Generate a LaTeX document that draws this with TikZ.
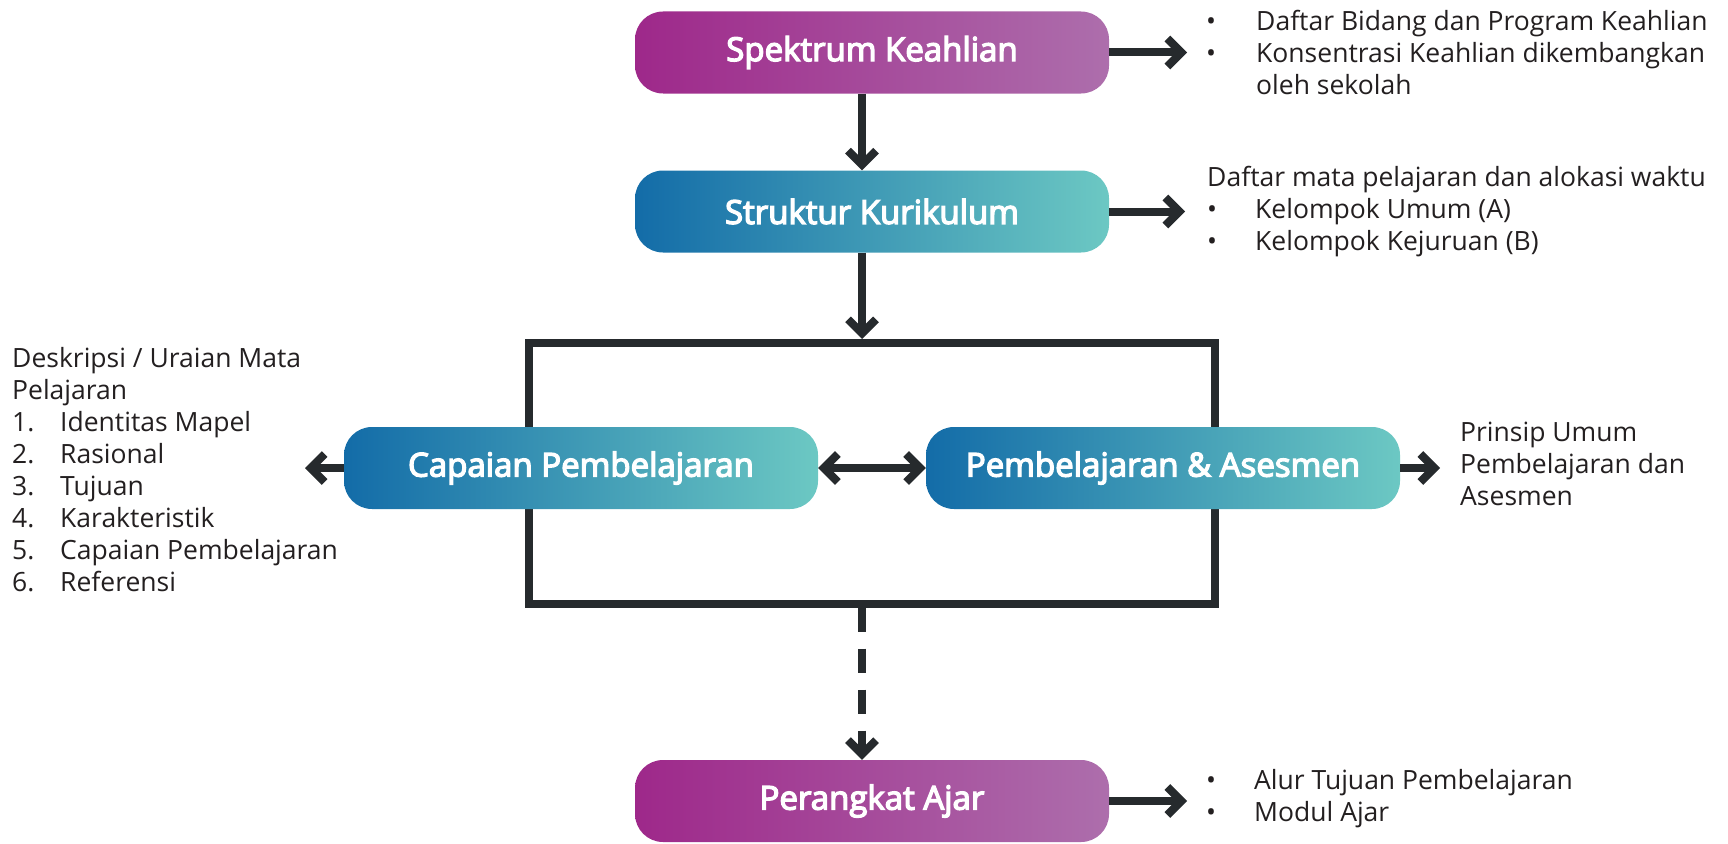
\documentclass[tikz,border=0pt]{standalone}
\usepackage{fontspec}
\setmainfont{Open Sans}
\newfontfamily\lblfont{Open Sans}[FakeBold=4]
\usetikzlibrary{arrows.meta}
\definecolor{pl}{RGB}{158,40,138}
\definecolor{pr}{RGB}{173,110,172}
\definecolor{bl}{RGB}{19,108,168}
\definecolor{br}{RGB}{108,200,195}
\definecolor{dk}{RGB}{38,42,45}
\definecolor{tx}{RGB}{35,31,32}
\begin{document}
\begin{tikzpicture}[x=1pt,y=-1pt,
  box/.style={rounded corners=28pt, minimum width=474pt, minimum height=82pt, inner sep=0pt, text=white, font=\lblfont\fontsize{33}{38}\selectfont},
  pbox/.style={box, left color=pl, right color=pr},
  bbox/.style={box, left color=bl, right color=br},
  tipa/.tip={Straight Barb[length=14pt,width=28pt,sharp]},
  con/.style={draw=dk, line width=8pt, -tipa},
  txt/.style={anchor=west, inner sep=0pt, align=left, text=tx, font=\fontsize{26.5}{32}\selectfont}
]
\useasboundingbox (0,0) rectangle (1728,843);
\node[draw=dk, line width=8pt, minimum width=686.5pt, minimum height=260.5pt, inner sep=0pt] (frame) at (871.75,473.25) {};
\node[pbox] (spek) at (872,52.5) {Spektrum Keahlian};
\node[bbox] (strk) at (872,211.5) {Struktur Kurikulum};
\node[bbox] (cap) at (581,468) {Capaian Pembelajaran};
\node[bbox] (pa) at (1163,468) {Pembelajaran \& Asesmen};
\node[pbox] (pera) at (872,801) {Perangkat Ajar};
\coordinate (ax) at (862,0);
\coordinate (t1) at (1187,52.5);
\coordinate (t2) at (1185,211.5);
\coordinate (t3) at (305,468);
\coordinate (t4) at (1440,468);
\coordinate (t5) at (1187,801);
\draw[con] (spek.south -| ax) -- (strk.north -| ax);
\draw[con] (strk.south -| ax) -- (frame.north -| ax);
\draw[con, dash pattern=on 24pt off 17pt] (frame.south -| ax) -- (pera.north -| ax);
\draw[con] (spek.east) -- (t1);
\draw[con] (strk.east) -- (t2);
\draw[con] (cap.west) -- (t3);
\draw[con, tipa-tipa] (cap.east) -- (pa.west);
\draw[con] (pa.east) -- (t4);
\draw[con] (pera.east) -- (t5);
\node[txt] (tspek) at (1206,52) {\makebox[50pt][l]{•}Daftar Bidang dan Program Keahlian\\ \makebox[50pt][l]{•}Konsentrasi Keahlian dikembangkan\\ \hspace*{50pt}oleh sekolah};
\node[txt] (tstrk) at (1207,212) {Daftar mata pelajaran dan alokasi waktu\\ \makebox[48pt][l]{•}Kelompok Umum (A)\\ \makebox[48pt][l]{•}Kelompok Kejuruan (B)};
\node[txt] (tcap) at (12,470) {Deskripsi / Uraian Mata\\ Pelajaran\\ \makebox[48pt][l]{1.}Identitas Mapel\\ \makebox[48pt][l]{2.}Rasional\\ \makebox[48pt][l]{3.}Tujuan\\ \makebox[48pt][l]{4.}Karakteristik\\ \makebox[48pt][l]{5.}Capaian Pembelajaran\\ \makebox[48pt][l]{6.}Referensi};
\node[txt] (tpa) at (1460,464) {Prinsip Umum\\ Pembelajaran dan\\ Asesmen};
\node[txt] (tpera) at (1206,799) {\makebox[48pt][l]{•}Alur Tujuan Pembelajaran\\ \makebox[48pt][l]{•}Modul Ajar};
\end{tikzpicture}
\end{document}
